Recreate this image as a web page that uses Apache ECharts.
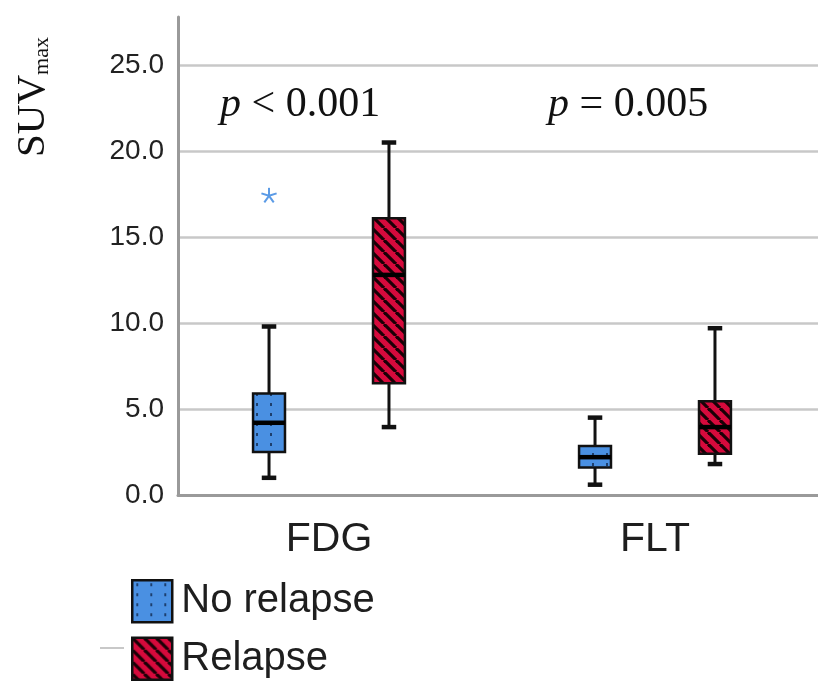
<!DOCTYPE html>
<html>
<head>
<meta charset="utf-8">
<script src="https://cdn.jsdelivr.net/npm/echarts@6/dist/echarts.min.js"></script>
<style>html,body{margin:0;padding:0;background:#fff;}#c{width:818px;height:682px;}</style>
</head>
<body>
<div id="c"></div>
<script>
// ---- data ----
const categories = ['FDG', 'FLT'];
// [min, Q1, median, Q3, max]
const noRelapse = [[1.0, 2.5, 4.2, 5.9, 9.8], [0.6, 1.6, 2.2, 2.85, 4.5]];
const relapse = [[3.95, 6.5, 12.8, 16.1, 20.5], [1.8, 2.4, 3.95, 5.45, 9.7]];
const noRelapseOutliers = [[0, 17.4]];
const pLabels = [' < 0.001', ' = 0.005'];
const yTicks = [0, 5, 10, 15, 20, 25];

// ---- patterns ----
function dotPattern() {
  const c = document.createElement('canvas');
  c.width = 14; c.height = 10;
  const g = c.getContext('2d');
  g.fillStyle = '#4a90e2'; g.fillRect(0, 0, 14, 10);
  g.fillStyle = '#1d3f6e'; g.fillRect(4, 3, 2, 3);
  return { image: c, repeat: 'repeat' };
}
function hatchPattern() {
  const s = 12;
  const c = document.createElement('canvas');
  c.width = s; c.height = s;
  const g = c.getContext('2d');
  g.fillStyle = '#d60a3c'; g.fillRect(0, 0, s, s);
  g.strokeStyle = '#1a0006'; g.lineWidth = 3.2;
  for (const k of [-s, 0, s]) { g.beginPath(); g.moveTo(k, 0); g.lineTo(k + s, s); g.stroke(); }
  return { image: c, repeat: 'repeat' };
}
const bluePat = dotPattern();
const redPat = hatchPattern();

const OFFSET = 62 / 337, BOXW = 33 / 337, CAPW = 15 / 337;

function boxRender(offsetFrac, fill) {
  return function (params, api) {
    const i = api.value(0);
    const band = api.size([1, 0])[0];
    const cx = api.coord([i, 0])[0] + offsetFrac * band;
    const y = [1, 2, 3, 4, 5].map(d => api.coord([i, api.value(d)])[1]);
    const bw = band * BOXW, cw = band * CAPW;
    const ls = { stroke: '#111', lineWidth: 3 };
    return {
      type: 'group',
      children: [
        { type: 'line', shape: { x1: cx, y1: y[0], x2: cx, y2: y[1] }, style: ls },
        { type: 'line', shape: { x1: cx, y1: y[3], x2: cx, y2: y[4] }, style: ls },
        { type: 'line', shape: { x1: cx - cw / 2, y1: y[0], x2: cx + cw / 2, y2: y[0] }, style: { stroke: '#111', lineWidth: 4.5 } },
        { type: 'line', shape: { x1: cx - cw / 2, y1: y[4], x2: cx + cw / 2, y2: y[4] }, style: { stroke: '#111', lineWidth: 4.5 } },
        { type: 'rect', shape: { x: cx - bw / 2, y: y[3], width: bw, height: y[1] - y[3] }, style: { fill: fill, stroke: '#111', lineWidth: 2.5 } },
        { type: 'line', shape: { x1: cx - bw / 2, y1: y[2], x2: cx + bw / 2, y2: y[2] }, style: { stroke: '#000', lineWidth: 4.5 } }
      ]
    };
  };
}
function starRender(offsetFrac) {
  return function (params, api) {
    const i = api.value(0);
    const band = api.size([1, 0])[0];
    const p = api.coord([i, api.value(1)]);
    const cx = p[0] + offsetFrac * band, cy = p[1];
    const r = 8, kids = [];
    for (let k = 0; k < 5; k++) {
      const a = -Math.PI / 2 + k * 2 * Math.PI / 5;
      kids.push({ type: 'line', shape: { x1: cx, y1: cy, x2: cx + r * Math.cos(a), y2: cy + r * Math.sin(a) }, style: { stroke: '#5b9be6', lineWidth: 2 } });
    }
    return { type: 'group', children: kids };
  };
}

const chart = echarts.init(document.getElementById('c'), null, { renderer: 'canvas' });
const YMAX = 27.8;
const pRich = {
  i: { fontSize: 42, fontStyle: 'italic', fontFamily: 'Liberation Serif', fill: '#111' },
  t: { fontSize: 42, fontFamily: 'Liberation Serif', fill: '#111' }
};
chart.setOption({
  animation: false,
  backgroundColor: '#fff',
  grid: [
    { left: 178, top: 17, right: 0, bottom: 187 },
    { left: 166, top: 17, width: 674, bottom: 187 }
  ],
  xAxis: [
    { gridIndex: 0, type: 'value', min: 0, max: 1, axisLabel: { show: false }, axisTick: { show: false }, splitLine: { show: false },
      axisLine: { show: true, lineStyle: { color: '#9a9a9a', width: 3 } } },
    { gridIndex: 1, type: 'category', data: categories, axisLine: { show: false }, axisTick: { show: false },
      axisLabel: { margin: 24, fontSize: 41, color: '#1e1e1e', fontFamily: 'Liberation Sans' } }
  ],
  yAxis: [
    { gridIndex: 0, type: 'value', min: 0, max: YMAX, interval: 5,
      axisLine: { show: true, lineStyle: { color: '#9a9a9a', width: 3 } }, axisTick: { show: false },
      axisLabel: { margin: 14, fontSize: 28, color: '#222', fontFamily: 'Liberation Sans',
        formatter: v => (yTicks.indexOf(Math.round(v * 10) / 10) >= 0 ? v.toFixed(1) : '') },
      splitLine: { show: true, showMinLine: false, showMaxLine: false, lineStyle: { color: '#c8c8c8', width: 2.5 } } },
    { gridIndex: 1, type: 'value', min: 0, max: YMAX, show: false, splitLine: { show: false } }
  ],
  legend: {
    orient: 'vertical', left: 131, top: 579, height: 140, itemWidth: 40, itemHeight: 42, itemGap: 13, padding: 0,
    icon: 'rect', selectedMode: false,
    textStyle: { fontSize: 40, lineHeight: 42, color: '#1e1e1e', fontFamily: 'Liberation Sans', padding: [0, 0, 0, 4] },
    data: [
      { name: 'No relapse', itemStyle: { color: bluePat, borderColor: '#111', borderWidth: 2.5 } },
      { name: 'Relapse', itemStyle: { color: redPat, borderColor: '#111', borderWidth: 2.5 } }
    ]
  },
  graphic: [
    { type: 'text', x: 33, y: 97, rotation: Math.PI / 2,
      style: { text: '{a|SUV}{b|max}', align: 'center', verticalAlign: 'middle',
        rich: { a: { fontSize: 41, fontFamily: 'Liberation Serif', fill: '#111', verticalAlign: 'bottom' },
                b: { fontSize: 22, fontFamily: 'Liberation Serif', fill: '#111', verticalAlign: 'bottom' } } } },
    { type: 'text', x: 220, y: 105,
      style: { text: '{i|p}{t|' + pLabels[0] + '}', verticalAlign: 'middle', rich: pRich } },
    { type: 'text', x: 548, y: 105,
      style: { text: '{i|p}{t|' + pLabels[1] + '}', verticalAlign: 'middle', rich: pRich } },
    { type: 'line', shape: { x1: 100, y1: 648, x2: 124, y2: 648 }, style: { stroke: '#c8c8c8', lineWidth: 2 } }
  ],
  series: [
    { name: 'No relapse', type: 'custom', xAxisIndex: 1, yAxisIndex: 1,
      itemStyle: { color: bluePat, borderColor: '#111' },
      encode: { x: 0, y: [1, 2, 3, 4, 5] },
      data: categories.map((c, i) => [i].concat(noRelapse[i])),
      renderItem: boxRender(-OFFSET, bluePat) },
    { name: 'Relapse', type: 'custom', xAxisIndex: 1, yAxisIndex: 1,
      itemStyle: { color: redPat, borderColor: '#111' },
      encode: { x: 0, y: [1, 2, 3, 4, 5] },
      data: categories.map((c, i) => [i].concat(relapse[i])),
      renderItem: boxRender(OFFSET, redPat) },
    { name: 'outliers', type: 'custom', xAxisIndex: 1, yAxisIndex: 1,
      encode: { x: 0, y: 1 },
      data: noRelapseOutliers,
      renderItem: starRender(-OFFSET) }
  ]
});
</script>
</body>
</html>
